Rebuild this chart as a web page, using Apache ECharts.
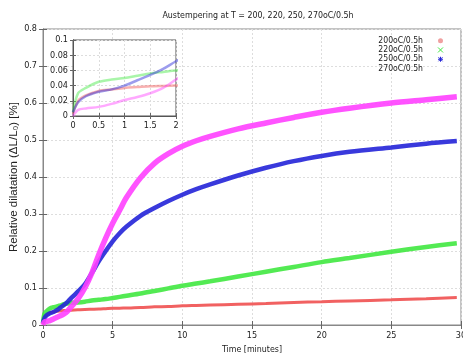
<!DOCTYPE html>
<html>
<head>
<meta charset="utf-8">
<script src="https://cdn.jsdelivr.net/npm/echarts@6/dist/echarts.min.js"></script>
<style>
  html, body { margin: 0; padding: 0; background: #fff; }
  #chart { width: 463px; height: 361px; }
</style>
</head>
<body>
<div id="chart"></div>
<script>
// time in minutes
const times = [0, 0.1, 0.25, 0.5, 0.75, 1, 1.25, 1.5, 1.75, 2, 2.5, 3, 3.5, 4, 4.5, 5, 5.5, 6, 7, 8, 9, 10, 11, 12, 14, 16, 18, 20, 22, 25, 27.5, 29.7];
const t200 = [0.003, 0.02, 0.027, 0.033, 0.035, 0.037, 0.038, 0.039, 0.0395, 0.04, 0.041, 0.042, 0.0425, 0.043, 0.044, 0.045, 0.0455, 0.046, 0.047, 0.049, 0.05, 0.052, 0.053, 0.054, 0.056, 0.058, 0.061, 0.063, 0.065, 0.068, 0.071, 0.074];
const t220 = [0.005, 0.03, 0.037, 0.045, 0.048, 0.05, 0.053, 0.056, 0.058, 0.06, 0.061, 0.063, 0.066, 0.068, 0.07, 0.073, 0.076, 0.079, 0.085, 0.092, 0.099, 0.106, 0.112, 0.118, 0.131, 0.144, 0.157, 0.17, 0.181, 0.198, 0.211, 0.221];
const t250 = [0.005, 0.018, 0.026, 0.032, 0.035, 0.04, 0.047, 0.054, 0.062, 0.072, 0.09, 0.11, 0.14, 0.172, 0.2, 0.226, 0.248, 0.266, 0.295, 0.316, 0.335, 0.352, 0.367, 0.38, 0.404, 0.425, 0.443, 0.457, 0.468, 0.48, 0.49, 0.497];
const t270 = [0, 0.008, 0.01, 0.012, 0.016, 0.021, 0.025, 0.03, 0.037, 0.048, 0.07, 0.1, 0.14, 0.19, 0.235, 0.275, 0.31, 0.345, 0.398, 0.437, 0.463, 0.483, 0.498, 0.51, 0.53, 0.546, 0.561, 0.575, 0.586, 0.6, 0.609, 0.617];

const names = ['200oC/0.5h', '220oC/0.5h', '250oC/0.5h', '270oC/0.5h'];
const colors = ['#f05050', '#40e840', '#2424d8', '#ff40ff'];
const widths = [3, 4.5, 4.5, 5.5];
const legendIcons = ['circle', 'path://M0,0L10,10M10,0L0,10', 'path://M5,0L5,10M0,5L10,5M1,1L9,9M9,1L1,9', 'emptyRect'];

const FONT = "'DejaVu Sans Condensed', 'Liberation Sans', sans-serif";
const TXT = '#222';

const pair = vals => times.map((t, i) => [t, vals[i]]);
const allVals = [t200, t220, t250, t270];

const chart = echarts.init(document.getElementById('chart'));

const tickStyle = { inside: true, length: 4, lineStyle: { color: '#666' } };
const axisLine = { show: true, lineStyle: { color: '#888', width: 1 } };
const grid = { lineStyle: { color: '#ddd', type: [2, 2] } };
const insetLine = { show: true, lineStyle: { color: '#555' } };
const insetTick = { inside: true, length: 3, lineStyle: { color: '#666' } };

const series = [];
allVals.forEach((v, i) => {
  series.push({
    name: names[i], type: 'line', xAxisIndex: 0, yAxisIndex: 0,
    data: pair(v), smooth: 0.3, symbol: 'none',
    lineStyle: { color: colors[i], width: widths[i], opacity: 0.9 },
    itemStyle: { color: colors[i] }
  });
});
allVals.forEach((v, i) => {
  series.push({
    name: names[i], type: 'line', xAxisIndex: 2, yAxisIndex: 2, z: 10,
    data: pair(v), smooth: 0.3, symbol: 'none', clip: true,
    lineStyle: { color: colors[i], width: 2.5, opacity: 0.45 },
    itemStyle: { color: colors[i] }
  });
});

const option = {
  animation: false,
  backgroundColor: '#fff',
  textStyle: { fontFamily: FONT },
  title: {
    text: 'Austempering at T = 200, 220, 250, 270oC/0.5h',
    left: 253, top: 6, textAlign: 'center',
    textStyle: { fontFamily: FONT, fontSize: 8.8, fontWeight: 'normal', color: TXT }
  },
  legend: {
    orient: 'vertical', right: 14, top: 31, align: 'right',
    itemWidth: 5, itemHeight: 5, itemGap: 0,
    textStyle: { fontFamily: FONT, fontSize: 8.6, color: TXT, lineHeight: 9.3, padding: [0, 10, 0, 0] },
    data: names.map((n, i) => ({
      name: n, icon: legendIcons[i],
      itemStyle: i === 0 ? { color: '#f0a0a0' } : { color: 'transparent', borderColor: colors[i], borderWidth: 1 }
    }))
  },
  grid: [
    { left: 43, right: 2, top: 29, bottom: 36, show: true, borderColor: '#888', borderWidth: 1, outerBoundsMode: 'none' },
    { left: 73, top: 40, width: 103, height: 76, show: true, backgroundColor: '#fff', borderColor: '#555', borderWidth: 1, z: 5, outerBoundsMode: 'none' }
  ],
  xAxis: [
    {
      gridIndex: 0, type: 'value', min: 0, max: 30, interval: 5, position: 'bottom',
      name: 'Time [minutes]', nameLocation: 'middle', nameGap: 20, nameMoveOverlap: false,
      nameTextStyle: { fontFamily: FONT, fontSize: 8.8, color: TXT },
      axisLine, axisTick: tickStyle,
      axisLabel: { fontFamily: FONT, fontSize: 9, color: TXT, margin: 6 },
      splitLine: grid
    },
    {
      gridIndex: 0, type: 'value', min: 0, max: 30, interval: 5, position: 'top',
      axisLine, axisTick: tickStyle, axisLabel: { show: false }, splitLine: { show: false }
    },
    {
      gridIndex: 1, type: 'value', min: 0, max: 2, interval: 0.5, position: 'bottom', z: 6,
      axisLine: insetLine, axisTick: insetTick,
      axisLabel: { fontFamily: FONT, fontSize: 9, color: TXT, margin: 5 },
      splitLine: grid
    },
    {
      gridIndex: 1, type: 'value', min: 0, max: 2, interval: 0.5, position: 'top', z: 6,
      axisLine: insetLine, axisTick: insetTick, axisLabel: { show: false }, splitLine: { show: false }
    }
  ],
  yAxis: [
    {
      gridIndex: 0, type: 'value', min: 0, max: 0.8, interval: 0.1, position: 'left',
      name: 'Relative dilatation (ΔL/L₀) [%]', nameLocation: 'middle', nameGap: 23, nameRotate: 90,
      nameMoveOverlap: false,
      nameTextStyle: { fontFamily: "'Liberation Sans', sans-serif", fontSize: 11.5, color: TXT },
      axisLine, axisTick: tickStyle,
      axisLabel: { fontFamily: FONT, fontSize: 9, color: TXT, margin: 6 },
      splitLine: grid
    },
    {
      gridIndex: 0, type: 'value', min: 0, max: 0.8, interval: 0.1, position: 'right',
      axisLine, axisTick: tickStyle, axisLabel: { show: false }, splitLine: { show: false }
    },
    {
      gridIndex: 1, type: 'value', min: 0, max: 0.1, interval: 0.02, position: 'left', z: 6,
      axisLine: insetLine, axisTick: insetTick,
      axisLabel: { fontFamily: FONT, fontSize: 9, color: TXT, margin: 5 },
      splitLine: grid
    },
    {
      gridIndex: 1, type: 'value', min: 0, max: 0.1, interval: 0.02, position: 'right', z: 6,
      axisLine: insetLine, axisTick: insetTick, axisLabel: { show: false }, splitLine: { show: false }
    }
  ],
  series
};

chart.setOption(option);
</script>
</body>
</html>
